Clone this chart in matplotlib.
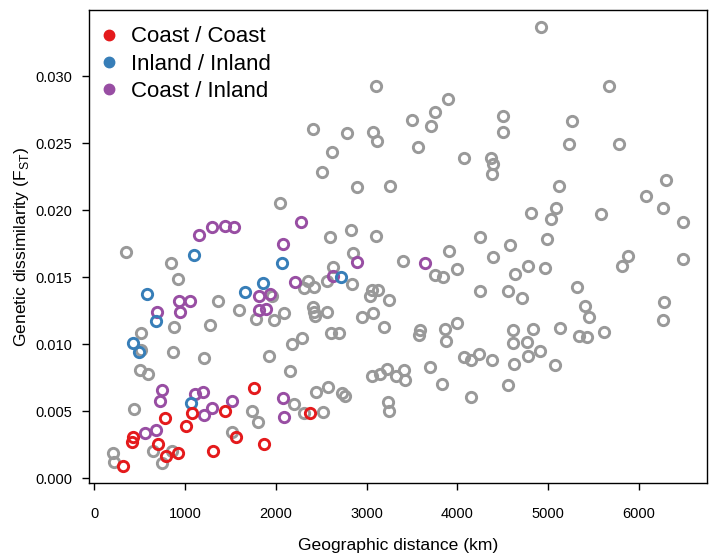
import matplotlib
matplotlib.use("Agg")
import matplotlib.pyplot as plt

plt.rcParams['font.family'] = ['Liberation Sans', 'DejaVu Sans']

# pairwise comparisons: geographic distance (km) vs FST
other_km = [200, 215, 352, 437, 515, 515, 505, 590, 645, 748, 860, 864, 880, 847, 917,
            1207, 1273, 1367, 1515, 1591, 1742, 1802, 1786, 1985, 2086, 1920, 1962,
            2042, 2160, 2180, 2286, 2205, 2305, 2523, 2438, 2576, 2728, 2767, 2311,
            2423, 2357, 2410, 2420, 2434, 2560, 2560, 2633, 2602, 2611, 2698, 2406,
            2618, 2508, 2787, 2897, 2824, 2851, 2841, 2953, 3038, 3055, 3131, 3074,
            3189, 3244, 3074, 3110, 3100, 3104, 3264, 3055, 3145, 3228, 3322, 3415,
            3428, 3240, 3249, 3407, 3499, 3566, 3714, 3758, 3899, 3586, 3574, 3704,
            3752, 3845, 3910, 4002, 3866, 3878, 3996, 3835, 4078, 4249, 4398, 4370,
            4396, 4381, 4499, 4508, 4251, 4072, 4157, 4236, 4156, 4380, 4556, 4585,
            4635, 4712, 4610, 4612, 4628, 4558, 4780, 4811, 4838, 4771, 4782, 4908,
            4926, 4968, 4990, 5035, 5085, 5122, 5235, 5260, 5129, 5083, 5320, 5413,
            5451, 5341, 5434, 5588, 5619, 5674, 5780, 5818, 5877, 6079, 6296, 6268,
            6278, 6264, 6494, 6494]
other_fst = [0.0019, 0.00121, 0.0169, 0.00513, 0.01087, 0.0096, 0.0081, 0.00775, 0.00205,
             0.00112, 0.00205, 0.00943, 0.0113, 0.01608, 0.01489,
             0.00895, 0.0114, 0.01325, 0.00345, 0.01257, 0.005, 0.00416, 0.0119, 0.0118,
             0.01233, 0.0091, 0.0136,
             0.02058, 0.008, 0.01001, 0.01048, 0.00555, 0.00489, 0.00492, 0.00642, 0.00681,
             0.00635, 0.00617, 0.01422,
             0.01426, 0.0147, 0.01277, 0.0124, 0.0121, 0.0124, 0.01472, 0.01577, 0.018,
             0.01083, 0.01086, 0.02608,
             0.02436, 0.0229, 0.02578, 0.02172, 0.01852, 0.01684, 0.01453, 0.01202, 0.01363,
             0.01407, 0.01407, 0.0123,
             0.01127, 0.01334, 0.02582, 0.02518, 0.02925, 0.01806, 0.02181, 0.00764, 0.00781,
             0.00815, 0.00764, 0.0081,
             0.00735, 0.00566, 0.00505, 0.01622, 0.02676, 0.02475, 0.02628, 0.02732, 0.02832,
             0.0111, 0.01072, 0.0083,
             0.01518, 0.01503, 0.01695, 0.01563, 0.01116, 0.01026, 0.01157, 0.00703, 0.02391,
             0.018, 0.01654, 0.02388,
             0.02347, 0.02269, 0.02702, 0.02585, 0.01395, 0.00907, 0.00882, 0.00925, 0.00609,
             0.00882, 0.01395, 0.0174,
             0.01527, 0.01344, 0.01103, 0.01011, 0.0085, 0.00692, 0.01584, 0.01977, 0.01115,
             0.01016, 0.00909, 0.00949,
             0.03366, 0.0157, 0.01785, 0.01935, 0.02021, 0.02183, 0.02494, 0.02671, 0.0112,
             0.00842, 0.01426, 0.01288,
             0.012, 0.01063, 0.01056, 0.01975, 0.01092, 0.02931, 0.02496, 0.01586, 0.01662,
             0.0211, 0.02229, 0.02021,
             0.01317, 0.01183, 0.01914, 0.01635]

coast_km = [312, 411, 424, 697, 778, 786, 916, 1008, 1080, 1308, 1437, 1561, 1754, 1873, 2379]
coast_fst = [0.00092, 0.0027, 0.00305, 0.00258, 0.00452, 0.00165, 0.00186, 0.00387, 0.00484,
             0.00206, 0.00503, 0.0031, 0.0067, 0.00257, 0.00488]

inland_km = [430, 494, 575, 684, 1095, 1065, 1660, 1863, 2066, 2720]
inland_fst = [0.0101, 0.00945, 0.01373, 0.01172, 0.01669, 0.00563, 0.01389, 0.01458,
              0.01606, 0.01505]

mixed_km = [555, 684, 719, 748, 694, 932, 945, 1050, 1105, 1199, 1208, 1298, 1516, 1150,
            1293, 1437, 1536, 1809, 1814, 1888, 1938, 2081, 2076, 2091, 2212, 2276, 2633,
            2896, 3640]
mixed_fst = [0.00336, 0.00362, 0.00577, 0.00659, 0.01238, 0.01323, 0.01243, 0.01323, 0.0063,
             0.00643, 0.0047, 0.00521, 0.00579, 0.01817, 0.01876, 0.01884, 0.01876, 0.01362,
             0.01257, 0.01265, 0.01376, 0.01746, 0.00595, 0.00458, 0.01468, 0.01915, 0.01507,
             0.01617, 0.01604]

groups = ["Coast / Coast", "Inland / Inland", "Coast / Inland"]
cols = {"Coast / Coast": "#E41A1C", "Inland / Inland": "#377EB8", "Coast / Inland": "#984EA3"}

fig = plt.figure(figsize=(7.09, 5.58), dpi=100)
ax = fig.add_axes([0.1255, 0.134, 0.8715, 0.848])

style = dict(linestyle="none", marker="o", markerfacecolor="none", markersize=7.4,
             markeredgewidth=2.1)
ax.plot(other_km, other_fst, markeredgecolor="#999999", **style)
ax.plot(mixed_km, mixed_fst, markeredgecolor=cols["Coast / Inland"], **style)
ax.plot(inland_km, inland_fst, markeredgecolor=cols["Inland / Inland"], **style)
ax.plot(coast_km, coast_fst, markeredgecolor=cols["Coast / Coast"], **style)

ax.set_xlim(-60, 6752)
ax.set_ylim(-0.00038, 0.03496)
ax.set_xticks(range(0, 7000, 1000))
ax.set_yticks([0.0, 0.005, 0.010, 0.015, 0.020, 0.025, 0.030])
ax.set_yticklabels(["%.3f" % v for v in ax.get_yticks()])
ax.tick_params(direction="out", length=5, width=1, labelsize=10.5)
ax.tick_params(axis="x", pad=12)
ax.tick_params(axis="y", pad=7)
for s in ax.spines.values():
    s.set_linewidth(1)

ax.set_xlabel("Geographic distance (km)", fontsize=12.6, labelpad=12)
ax.set_ylabel(r"Genetic dissimilarity (F$_\mathregular{ST}$)", fontsize=12.6, labelpad=3)

# legend with filled dots
handles = [plt.Line2D([], [], linestyle="none", marker="o", markersize=7.5,
                      color=cols[g]) for g in groups]
ax.legend(handles, groups, loc="upper left", bbox_to_anchor=(0.0215, 0.9655),
          frameon=False, fontsize=16, handletextpad=0.69, labelspacing=0.28,
          borderaxespad=0, borderpad=0, handlelength=0.6)

fig.savefig("out.png", dpi=100)
